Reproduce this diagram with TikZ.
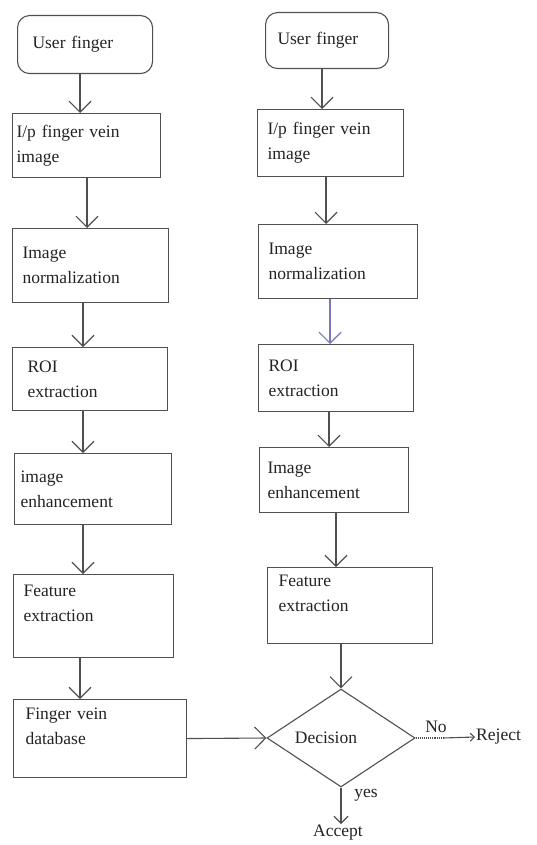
\documentclass[tikz,border=0pt]{standalone}
\usepackage{fontspec}
\setmainfont{Liberation Serif}
\usetikzlibrary{arrows.meta,shapes.geometric}
\definecolor{ashgray}{RGB}{80, 80, 80}
\definecolor{inkblack}{RGB}{35, 35, 35}
\definecolor{dullblue}{RGB}{120, 120, 185}

\begin{document}
\begin{tikzpicture}[x=1pt, y=-1pt,
        >={Straight Barb[length=11pt, width=22pt]},
        every node/.style={text=inkblack, font=\fontsize{17.5}{25}\selectfont},
        stage/.style={draw=ashgray, line width=1.1pt, anchor=north west, align=left,
                      inner xsep=10pt, inner ysep=0pt},
        start/.style={stage, rounded corners=12pt},
        flow/.style={draw=ashgray, line width=1.1pt, ->}]
            \useasboundingbox (0, 0) rectangle (537, 845);
            % Enrollment column
            \node[start, inner xsep=15pt, text width=105pt, minimum height=58pt] (lusr)  at ( 17,  15) {User finger};
            \node[stage, inner xsep= 4pt, text width=140pt, minimum height=64pt] (lip)   at ( 12, 113) {I/p finger vein\\image};
            \node[stage,                  text width=136pt, minimum height=74pt] (lnorm) at ( 12, 228) {Image\\normalization};
            \node[stage, inner xsep=15pt, text width=125pt, minimum height=63pt] (lroi)  at ( 12, 347) {ROI\\extraction};
            \node[stage, inner xsep= 6pt, text width=145pt, minimum height=71pt] (lenh)  at ( 14, 453) {image\\enhancement};
            \node[stage,                  text width=140pt, minimum height=83pt] (lfeat) at ( 13, 574) {Feature\\extraction\\\mbox{}};
            \node[stage, inner xsep=12pt, text width=149pt, minimum height=78pt] (ldb)   at ( 13, 699) {Finger vein\\database\\\mbox{}};
            % Verification column
            \node[start, inner xsep=12pt, text width= 99pt, minimum height=56pt] (rusr)  at (265,  12) {User finger};
            \node[stage,                  text width=126pt, minimum height=67pt] (rip)   at (257, 109) {I/p finger vein\\image};
            \node[stage,                  text width=139pt, minimum height=74pt] (rnorm) at (258, 224) {Image\\normalization};
            \node[stage,                  text width=135pt, minimum height=67pt] (rroi)  at (258, 344) {ROI\\extraction};
            \node[stage, inner xsep= 8pt, text width=133pt, minimum height=65pt] (renh)  at (259, 447) {Image\\enhancement};
            \node[stage, inner xsep=11pt, text width=143pt, minimum height=76pt] (rfeat) at (267, 567) {Feature\\extraction\\\mbox{}};
            % Matching
            \node[diamond, draw=ashgray, line width=1.1pt, aspect=1.5, inner sep=0pt,
                  minimum width=148pt, minimum height=98pt] (dec) at (341, 738) {Decision\hspace*{30pt}};
            \node                            (nolbl)  at (436, 727) {No};
            \node                            (yeslbl) at (366, 795) {yes};
            \node[anchor=west,  inner sep=1pt] (rej)  at (475, 737) {Reject};
            \node[anchor=north, inner sep=1pt] (acc)  at (338, 824) {Accept};
            \coordinate (nobrk) at (443, 738);
            % Arrows, enrollment
            \draw[flow] (lusr.south  -| 80,0) -- (lip.north   -| 80,0);
            \draw[flow] (lip.south   -| 87,0) -- (lnorm.north -| 87,0);
            \draw[flow] (lnorm.south -| 83,0) -- (lroi.north  -| 83,0);
            \draw[flow] (lroi.south  -| 83,0) -- (lenh.north  -| 83,0);
            \draw[flow] (lenh.south  -| 83,0) -- (lfeat.north -| 83,0);
            \draw[flow] (lfeat.south -| 80,0) -- (ldb.north   -| 80,0);
            % Arrows, verification
            \draw[flow] (rusr.south  -| 322,0) -- (rip.north   -| 322,0);
            \draw[flow] (rip.south   -| 326,0) -- (rnorm.north -| 326,0);
            \draw[flow, draw=dullblue] (rnorm.south -| 330,0) -- (rroi.north -| 330,0);
            \draw[flow] (rroi.south  -| 329,0) -- (renh.north  -| 329,0);
            \draw[flow] (renh.south  -| 336,0) -- (rfeat.north -| 336,0);
            \draw[flow] (rfeat.south -| dec.north) -- (dec.north);
            % Arrows, decision
            \draw[flow] (ldb.east) -- (dec.west);
            \draw[ashgray, line width=1.1pt, densely dotted] (dec.east) -- (nobrk);
            \draw[flow, -{Straight Barb[length=4pt, width=8pt]}] (nobrk) -- (rej.west);
            \draw[flow, -{Straight Barb[length=7pt, width=14pt]}] (dec.south) -- (acc.north -| dec.south);
        \end{tikzpicture}
\end{document}
